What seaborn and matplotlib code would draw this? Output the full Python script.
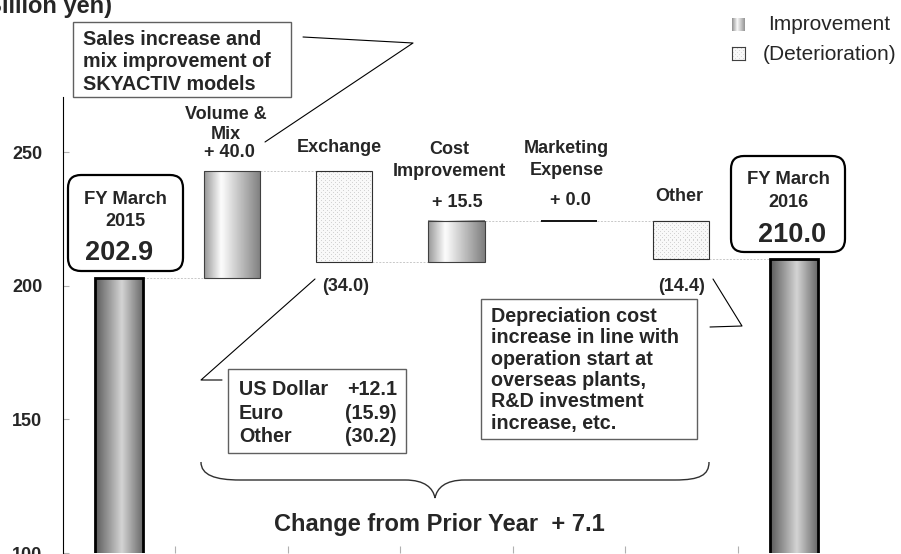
import numpy as np
import pandas as pd
import matplotlib
matplotlib.use("Agg")
import matplotlib.pyplot as plt
import seaborn as sns
from matplotlib.patches import Rectangle, FancyBboxPatch, PathPatch
from matplotlib.path import Path
from matplotlib.transforms import Affine2D

# ---------------- data ----------------
categories = ["FY March 2015", "Volume & Mix", "Exchange", "Cost Improvement",
              "Marketing Expense", "Other", "FY March 2016"]
start_value = 202.9
end_value = 210.0
change_categories = ["Volume & Mix", "Exchange", "Cost Improvement", "Marketing Expense", "Other"]
change_values = [40.0, -34.0, 15.5, 0.0, -14.4]
change_labels = ["+ 40.0", "(34.0)", "+ 15.5", "+ 0.0", "(14.4)"]
exchange_names = ["US Dollar", "Euro", "Other"]
exchange_values = ["+12.1", "(15.9)", "(30.2)"]
total_change_text = "Change from Prior Year  + 7.1"
y_ticks = [100, 150, 200, 250]
legend_labels = ["Improvement", "(Deterioration)"]

# ---------------- style ----------------
sns.set_style("white")
plt.rcParams['font.family'] = ['Liberation Sans', 'DejaVu Sans']

W, H = 901, 554
fig = plt.figure(figsize=(W / 100, H / 100), dpi=100)
ax = fig.add_axes([63 / W, 1 / H, 787 / W, 456 / H])
PX = Affine2D().scale(1 / W, -1 / H).translate(0, 1) + fig.transFigure
YLIM = (100, 100 + 456 / 2.67)

# ---------------- waterfall ----------------
change_values = np.array(change_values)
levels_after = start_value + np.cumsum(change_values)
levels_before = np.concatenate([[start_value], levels_after[:-1]])
change_bottom = np.minimum(levels_before, levels_after)
change_height = np.abs(change_values)

totals_df = pd.DataFrame({"category": [categories[0], categories[-1]],
                          "value": [start_value, end_value]})
changes_df = pd.DataFrame({"category": change_categories, "height": change_height})

sns.barplot(data=totals_df, x="category", y="value", order=categories, width=0.43,
            errorbar=None, ax=ax, color="white", facecolor="none", edgecolor="black",
            linewidth=2.0, zorder=3)
total_bars = list(ax.containers[-1])
sns.barplot(data=changes_df, x="category", y="height", order=categories, width=0.5,
            errorbar=None, ax=ax, color="white", bottom=change_bottom, facecolor="none",
            edgecolor="#404040", linewidth=0.8, zorder=3)
change_bars = list(ax.containers[-1])

ax.set_xlim(-0.5, len(categories) - 0.5)
ax.set_ylim(*YLIM)


def grad_row(w, stops, vals):
    return np.interp(np.linspace(0, 1, max(w, 2)), stops, vals)


def fill_bar(patch, kind):
    x0 = patch.get_x()
    x1 = x0 + patch.get_width()
    y0 = max(patch.get_y(), YLIM[0])
    y1 = patch.get_y() + patch.get_height()
    if y1 - y0 <= 0:
        return
    p0 = ax.transData.transform((x0, y0))
    p1 = ax.transData.transform((x1, y1))
    w = int(round(p1[0] - p0[0]))
    h = int(round(p1[1] - p0[1]))
    if kind == "total":
        row = grad_row(w, [0, 0.55, 1], [0.36, 0.83, 0.40])
        img = np.tile(row, (max(h, 2), 1))
        interp = "bilinear"
    elif kind == "up":
        row = grad_row(w, [0, 0.3, 1], [0.60, 0.99, 0.50])
        img = np.tile(row, (max(h, 2), 1))
        interp = "bilinear"
    else:
        img = np.full((max(h, 2), max(w, 2)), 0.975)
        img[1::4, 1::4] = 0.83
        img[3::4, 3::4] = 0.83
        interp = "nearest"
    ax.imshow(img, cmap="gray", vmin=0, vmax=1, extent=(x0, x1, y0, y1),
              aspect="auto", interpolation=interp, zorder=2)


for b in total_bars:
    fill_bar(b, "total")
for b, v in zip(change_bars, change_values):
    if v > 0:
        fill_bar(b, "up")
    elif v < 0:
        fill_bar(b, "down")
        b.set_edgecolor("#303030")
    else:
        b.set_edgecolor("black")
        b.set_linewidth(1.3)

ax.set_xlim(-0.5, len(categories) - 0.5)
ax.set_ylim(*YLIM)

# connector lines
bars_all = [total_bars[0]] + change_bars + [total_bars[1]]
levels_all = [start_value] + list(levels_after)
for i in range(len(bars_all) - 1):
    xa = bars_all[i].get_x() + bars_all[i].get_width()
    xb = bars_all[i + 1].get_x()
    ax.hlines(levels_all[i], xa, xb, colors="#c8c8c8", linestyles=(0, (2, 1.5)),
              linewidth=0.7, zorder=2)

# axes styling
for s in ["top", "right", "bottom"]:
    ax.spines[s].set_visible(False)
ax.spines["left"].set_color("black")
ax.spines["left"].set_linewidth(0.8)
ax.set_xticks(np.arange(0.5, len(categories) - 1, 1))
ax.set_xticklabels([])
ax.set_xlabel("")
ax.set_ylabel("")
ax.set_yticks(y_ticks)
ax.set_yticklabels([str(v) for v in y_ticks], fontweight="bold", fontsize=13)
ax.tick_params(axis="x", direction="in", length=5, color="#b0b0b0", bottom=True, width=0.8)
ax.tick_params(axis="y", direction="in", length=4, color="#b0b0b0", left=True, pad=15, width=0.8)
ax.grid(False)


# ---------------- text helpers ----------------
def put(x, yc, s, size=13, ha="center", weight="bold", **kw):
    fig.text(x, yc + 0.358 * size * 100 / 72, s, transform=PX, fontsize=size, ha=ha,
             va="baseline", fontweight=weight, **kw)


def line(points, lw=0.8, color="black"):
    xs, ys = zip(*points)
    fig.add_artist(plt.Line2D(xs, ys, transform=PX, color=color, lw=lw))


# title (partly outside the canvas, as in the reference)
put(112, 4.5, "(Billion yen)", size=17, ha="right")

# category labels
put(226, 112.5, "Volume &")
put(226, 132.5, "Mix")
put(229, 151, change_labels[0])
put(339.5, 146, "Exchange")
put(346, 285, change_labels[1])
put(449, 147.5, "Cost")
put(449.5, 170, "Improvement")
put(457, 201, change_labels[2])
put(566.5, 147, "Marketing")
put(566.5, 169, "Expense")
put(570, 199, change_labels[3])
put(679.5, 195, "Other")
put(682, 285, change_labels[4])

# FY boxes
for (bx, by, bw, bh), title, year, val, vx, ys in [
        ((68, 175, 115, 96), "FY March", "2015", f"{start_value:.1f}", 119.5, (197.5, 219.5, 250.7)),
        ((731, 156, 114, 96), "FY March", "2016", f"{end_value:.1f}", 792.5, (177.5, 200.5, 232))]:
    fig.add_artist(FancyBboxPatch((bx, by), bw, bh, boxstyle="round,pad=0,rounding_size=13",
                                  transform=PX, facecolor="white", edgecolor="black", lw=1.6))
    cx = bx + bw / 2
    put(cx, ys[0], title, size=13.3)
    put(cx, ys[1], year, size=13)
    put(vx, ys[2], val, size=19.5)

# Sales increase box
fig.add_artist(Rectangle((73, 22), 218, 75, transform=PX, facecolor="white",
                         edgecolor="#606060", lw=1))
for t, yc in zip(["Sales increase and", "mix improvement of", "SKYACTIV models"], [38, 60, 82.5]):
    put(83, yc, t, size=14.2, ha="left")
line([(303, 37), (413, 43), (265, 142)])

# Exchange breakdown box
fig.add_artist(Rectangle((228, 369), 178, 84, transform=PX, facecolor="white",
                         edgecolor="#606060", lw=1))
for n, v, yc in zip(exchange_names, exchange_values, [387.5, 411.5, 435]):
    put(239, yc, n, size=14.2, ha="left")
    put(397, yc, v, size=14.2, ha="right")
line([(315, 279), (201, 380), (222, 380)])

# Depreciation box
fig.add_artist(Rectangle((481, 299), 216, 140, transform=PX, facecolor="white",
                         edgecolor="#606060", lw=1))
dep_lines = ["Depreciation cost", "increase in line with", "operation start at",
             "overseas plants,", "R&D investment", "increase, etc."]
for k, t in enumerate(dep_lines):
    put(491, 315 + 21.3 * k, t, size=14.2, ha="left")
line([(713, 279), (742, 326), (710, 327)])

# brace
verts = [(201, 462), (201, 475), (215, 480), (240, 480),
         (405, 480),
         (425, 480), (433, 488), (435, 498),
         (437, 488), (445, 480), (465, 480),
         (675, 480),
         (700, 480), (709, 475), (709, 462)]
codes = [Path.MOVETO, Path.CURVE4, Path.CURVE4, Path.CURVE4,
         Path.LINETO,
         Path.CURVE4, Path.CURVE4, Path.CURVE4,
         Path.CURVE4, Path.CURVE4, Path.CURVE4,
         Path.LINETO,
         Path.CURVE4, Path.CURVE4, Path.CURVE4]
fig.add_artist(PathPatch(Path(verts, codes), transform=PX, facecolor="none",
                         edgecolor="#303030", lw=1))
put(439, 522.5, total_change_text, size=17)

# legend
for k, (lab, tx, yc) in enumerate(zip(legend_labels, [768, 763], [22.5, 52.5])):
    top = [18, 47][k]
    lax = fig.add_axes([732 / W, 1 - (top + 13) / H, 13 / W, 13 / H])
    if k == 0:
        img = np.tile(grad_row(13, [0, 0.4, 1], [0.6, 0.97, 0.6]), (13, 1))
        lax.imshow(img, cmap="gray", vmin=0, vmax=1, aspect="auto", interpolation="bilinear")
        for s in lax.spines.values():
            s.set_visible(False)
    else:
        img = np.full((13, 13), 0.97)
        img[1::4, 1::4] = 0.85
        img[3::4, 3::4] = 0.85
        lax.imshow(img, cmap="gray", vmin=0, vmax=1, aspect="auto", interpolation="nearest")
        for s in lax.spines.values():
            s.set_visible(True)
            s.set_color("#404040")
            s.set_linewidth(0.8)
    lax.set_xticks([])
    lax.set_yticks([])
    put(tx, yc, lab, size=15, ha="left", weight="normal")

fig.savefig("out.png", dpi=100)
